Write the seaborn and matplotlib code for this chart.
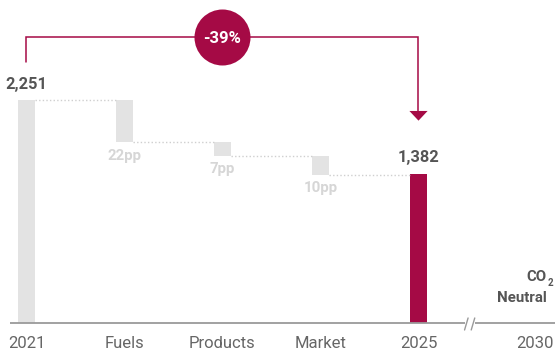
import numpy as np
import matplotlib
matplotlib.use("Agg")
import matplotlib.pyplot as plt
import seaborn as sns

# ---- data -------------------------------------------------------------
categories = ["2021", "Fuels", "Products", "Market", "2025"]
start_value = 2251          # emissions in 2021
end_value = 1382            # emissions in 2025
reduction_pp = [22, 7, 10]  # contribution of each lever, percentage points of 2021
target_label = "2030"
target_text = ("CO", "2", "Neutral")

# ---- styling ----------------------------------------------------------
CRIMSON = "#a50a45"
BAR_GREY = "#e3e3e3"
PP_GREY = "#d6d6d6"
TEXT_DARK = "#555555"
TICK_GREY = "#666666"
AXIS_GREY = "#9a9a9a"
FONT = ["Roboto", "DejaVu Sans"]

sns.set_theme(style="white")
plt.rcParams["font.family"] = FONT

# ---- waterfall geometry -----------------------------------------------
axis_floor = -370           # value at which the category axis sits
tops, bottoms = [start_value], [axis_floor]
level = start_value
for pp in reduction_pp:
    drop = start_value * pp / 100
    tops.append(level)
    bottoms.append(level - drop)
    level -= drop
tops.append(end_value)
bottoms.append(axis_floor)
tops = np.array(tops)
bottoms = np.array(bottoms)
heights = tops - bottoms
change_pct = round((end_value / start_value - 1) * 100)

W, H, DPI = 555, 354, 100
fig = plt.figure(figsize=(W / DPI, H / DPI), dpi=DPI)
ax = fig.add_axes([10 / W, 31 / H, 545 / W, 323 / H])

bar_w = 0.173
target_pos = 5.185

# grey bars (start + reductions)
sns.barplot(x=categories[:4], y=heights[:4], bottom=bottoms[:4], order=categories,
            color=BAR_GREY, width=bar_w, errorbar=None, saturation=1,
            linewidth=0, ax=ax)
# 2025 result bar
sns.barplot(x=categories[4:], y=heights[4:], bottom=bottoms[4:], order=categories,
            color=CRIMSON, width=bar_w, errorbar=None, saturation=1,
            linewidth=0, ax=ax)

ax.set_xlim(-16.5 / 98, 528.5 / 98)
ax.set_ylim(axis_floor, 3426)
for s in ax.spines.values():
    s.set_visible(False)
ax.set_yticks([])
ax.set_xlabel("")
ax.set_ylabel("")
ax.set_xticks(list(range(len(categories))) + [target_pos])
ax.set_xticklabels(categories + [target_label], fontsize=12, color=TICK_GREY,
                   family=FONT)
ax.tick_params(axis="x", length=0, pad=9)

# baseline with a break before the target year
brk0, brk1 = 4.474, 4.577
line_kw = dict(color=AXIS_GREY, lw=1.3, clip_on=False, solid_capstyle="butt")
ax.plot([ax.get_xlim()[0], brk0], [axis_floor, axis_floor], **line_kw)
ax.plot([brk1, ax.get_xlim()[1]], [axis_floor, axis_floor], **line_kw)
for xc in (brk0 + 0.014, brk1 - 0.021):
    ax.plot([xc - 0.018, xc + 0.018], [axis_floor - 82, axis_floor + 59],
            color=AXIS_GREY, lw=1.0, clip_on=False)

# dotted connectors between consecutive bars
levels = [tops[0]] + list(bottoms[1:4])
for i, lv in enumerate(levels):
    ax.plot([i + bar_w / 2, i + 1 - bar_w / 2], [lv, lv], color="#cfcfcf",
            lw=1.0, ls=(0, (1, 1.6)), zorder=1)

# value labels
ax.annotate(f"{start_value:,}", (0, start_value), xytext=(0, 10.7),
            textcoords="offset pixels", ha="center", va="baseline",
            fontsize=11.8, fontweight="bold", color=TEXT_DARK)
ax.annotate(f"{end_value:,}", (4, end_value), xytext=(0, 11.5),
            textcoords="offset pixels", ha="center", va="baseline",
            fontsize=11.8, fontweight="bold", color=TEXT_DARK)
for i, pp in enumerate(reduction_pp, start=1):
    ax.annotate(f"{pp}pp", (i, bottoms[i]), xytext=(0, -17.5),
                textcoords="offset pixels", ha="center", va="baseline",
                fontsize=10.8, fontweight="bold", color=PP_GREY)

# bracket arrow from 2021 to 2025 with the overall change badge
bracket_y = 2995
ax.plot([0, 0, 4, 4], [2701, bracket_y, bracket_y, 2122], color=CRIMSON,
        lw=1.1, solid_joinstyle="miter", zorder=3)
ax.fill([4 - 0.093, 4 + 0.093, 4], [2122, 2122, 2008], color=CRIMSON,
        lw=0, zorder=3)
ax.scatter([2], [bracket_y], s=(56 * 0.72) ** 2, color=CRIMSON, lw=0,
           zorder=4, clip_on=False)
ax.text(2, bracket_y, f"{change_pct}%", ha="center", va="center_baseline",
        fontsize=12, fontweight="bold", color="white", zorder=5)

# target annotation
fig.text(546.7 / W, (H - 280.7) / H, target_text[0], ha="right", va="baseline",
         fontsize=10.8, fontweight="bold", color=TEXT_DARK)
fig.text(547.5 / W, (H - 285.5) / H, target_text[1], ha="left", va="baseline",
         fontsize=7, fontweight="bold", color=TEXT_DARK)
fig.text(546.7 / W, (H - 301.7) / H, target_text[2], ha="right", va="baseline",
         fontsize=10.8, fontweight="bold", color=TEXT_DARK)

fig.savefig("out.png", dpi=DPI)
